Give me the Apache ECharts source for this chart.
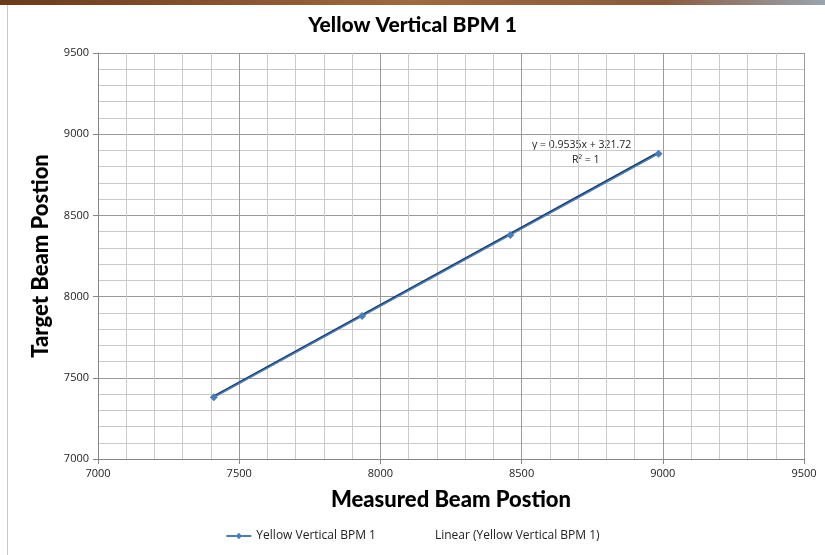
<!DOCTYPE html>
<html>
<head>
<meta charset="utf-8">
<script src="https://cdn.jsdelivr.net/npm/echarts@6/dist/echarts.min.js"></script>
<style>
  html, body { margin: 0; padding: 0; background: #fff; }
  #chart { width: 825px; height: 555px; }
</style>
</head>
<body>
<div id="chart"></div>
<script>
// values
var measured = [7410, 7935, 8460, 8985];
var target = [7380, 7880, 8380, 8880];
// trendline ends (Excel draws it over the data range)
var trendX = [7410, 8985];
var trendY = [7385, 8886];
var seriesName = 'Yellow Vertical BPM 1';
var trendName = 'Linear (Yellow Vertical BPM 1)';

var chart = echarts.init(document.getElementById('chart'));

var points = measured.map(function (x, i) { return [x, target[i]]; });
var trend = trendX.map(function (x, i) { return [x, trendY[i]]; });

var font = 'Lato, "Open Sans", sans-serif';
var small = '"Open Sans", sans-serif';

function axisCfg(name, gap, size) {
  return {
    type: 'value',
    min: 7000, max: 9500, interval: 500,
    name: name,
    nameLocation: 'middle',
    nameGap: gap,
    nameTextStyle: { fontFamily: font, fontSize: size, fontWeight: 900, color: '#000' },
    axisLine: { show: true, lineStyle: { color: '#868686' } },
    axisTick: { show: true, length: 5, lineStyle: { color: '#868686' } },
    axisLabel: {
      fontFamily: small, fontSize: 11, color: '#222', margin: 9,
      formatter: function (v) { return String(v); }
    },
    splitLine: { show: true, lineStyle: { color: '#9a9a9a' } },
    minorTick: { show: false, splitNumber: 5 },
    minorSplitLine: { show: true, lineStyle: { color: '#cacaca' } }
  };
}

var option = {
  backgroundColor: '#fff',
  animation: false,
  title: {
    text: 'Yellow Vertical BPM 1',
    left: 'center',
    top: 10,
    textStyle: { fontFamily: font, fontSize: 21, fontWeight: 900, color: '#000' }
  },
  legend: {
    bottom: 8,
    left: 'center',
    itemWidth: 25,
    itemHeight: 8,
    itemGap: 28,
    textStyle: { fontFamily: small, fontSize: 12, color: '#222' },
    data: [
      { name: seriesName },
      { name: trendName, itemStyle: { opacity: 0 }, lineStyle: { opacity: 0 } }
    ]
  },
  grid: { left: 98, right: 21, top: 53, bottom: 96 },
  xAxis: axisCfg('Measured Beam Postion', 30, 22),
  yAxis: axisCfg('Target Beam Postion', 46, 22),
  series: [
    {
      name: seriesName,
      type: 'line',
      data: points,
      symbol: 'diamond',
      symbolSize: 8,
      z: 4,
      lineStyle: { color: '#4a7ebb', width: 1.5 },
      itemStyle: { color: '#4a7ebb' }
    },
    {
      name: trendName,
      type: 'line',
      data: trend,
      symbol: 'none',
      z: 3,
      lineStyle: { color: '#1c3d6b', width: 2.5 },
      itemStyle: { color: '#1c3d6b' }
    }
  ],
  graphic: [
    {
      type: 'rect',
      shape: { x: 0, y: 0, width: 825, height: 5 },
      style: {
        fill: new echarts.graphic.LinearGradient(0, 0, 1, 0, [
          { offset: 0, color: '#6b3a1c' },
          { offset: 0.5, color: '#a0693f' },
          { offset: 0.8, color: '#8a5a3a' },
          { offset: 1, color: '#9aa4b0' }
        ])
      }
    },
    {
      type: 'line',
      shape: { x1: 7.5, y1: 5, x2: 7.5, y2: 555 },
      style: { stroke: '#c8c8c8', lineWidth: 1 }
    },
    {
      type: 'text',
      left: 532, top: 140,
      style: { text: 'y = 0.9535x + 321.72', font: '10.5px ' + small, fill: '#222' }
    },
    {
      type: 'text',
      left: 572, top: 155,
      style: { text: 'R² = 1', font: '10.5px ' + small, fill: '#222' }
    }
  ]
};

chart.setOption(option);
</script>
</body>
</html>
